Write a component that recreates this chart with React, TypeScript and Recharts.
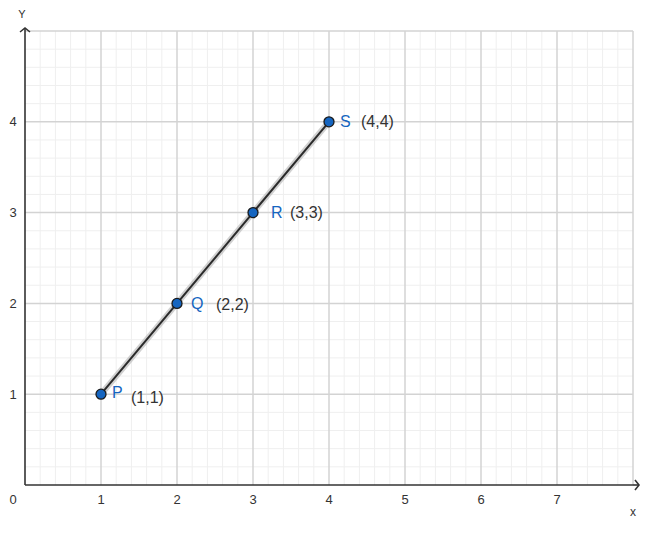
import React from 'react';
import { LineChart, Line, XAxis, YAxis, ReferenceLine, ReferenceDot, LabelList } from 'recharts';

const pointNames = ['P', 'Q', 'R', 'S'];
const xValues = [1, 2, 3, 4];
const yValues = [1, 2, 3, 4];
const xTicks = [0, 1, 2, 3, 4, 5, 6, 7];
const yTicks = [1, 2, 3, 4];
const xMax = 8;
const yMax = 5;

// label nudges (px) for name and coordinate text, per point
const nameDx = [11, 14, 18, 11];
const coordDx = [30, 39, 37, 32];
const nameDy = [-2, 0, 0, 0];
const coordDy = [3, 1, 0, 0];

const data = pointNames.map((name, i) => ({ name, x: xValues[i], y: yValues[i] }));

const steps = (max: number, step: number) => {
  const out: number[] = [];
  for (let i = 0; i <= Math.round(max / step); i++) out.push(+(i * step).toFixed(2));
  return out;
};
const minorX = steps(xMax, 0.2).filter((v) => v % 1 !== 0);
const minorY = steps(yMax, 0.2).filter((v) => v % 1 !== 0);
const majorX = steps(xMax, 1).filter((v) => v > 0);
const majorY = steps(yMax, 1).filter((v) => v > 0);

const FONT = '"Liberation Sans", Arial, sans-serif';
const BLUE = '#1565c0';

function XTick({ x, y, payload }: any) {
  const dx = payload.value === 0 ? -12 : 0;
  return (
    <text x={x + dx} y={y + 14} textAnchor="middle" dominantBaseline="central" fontSize={13} fill="#333" fontFamily={FONT}>
      {payload.value}
    </text>
  );
}

function YTick({ x, y, payload }: any) {
  return (
    <text x={x - 12} y={y} textAnchor="middle" dominantBaseline="central" fontSize={13} fill="#333" fontFamily={FONT}>
      {payload.value}
    </text>
  );
}

function PointDot({ cx, cy }: any) {
  return <circle cx={cx} cy={cy} r={5} fill={BLUE} stroke="#1a1a1a" strokeWidth={1.3} />;
}

function PointLabel({ x, y, index }: any) {
  const d = data[index];
  return (
    <g fontFamily={FONT} fontSize={16}>
      <text x={x + nameDx[index]} y={y + nameDy[index]} dominantBaseline="central" fill={BLUE}>
        {d.name}
      </text>
      <text x={x + coordDx[index]} y={y + coordDy[index]} dominantBaseline="central" fill="#333">
        ({d.x},{d.y})
      </text>
    </g>
  );
}

function XArrow({ cx, cy }: any) {
  return (
    <g>
      <line x1={cx} y1={cy} x2={cx + 6} y2={cy} stroke="#333" strokeWidth={1.6} />
      <path d={`M${cx + 2},${cy - 5} L${cx + 6},${cy} L${cx + 2},${cy + 5}`} fill="none" stroke="#333" strokeWidth={1.6} />
      <text x={cx} y={cy + 27} textAnchor="middle" dominantBaseline="central" fontSize={12} fill="#333" fontFamily={FONT}>
        x
      </text>
    </g>
  );
}

function YArrow({ cx, cy }: any) {
  return (
    <g>
      <line x1={cx} y1={cy} x2={cx} y2={cy - 3} stroke="#333" strokeWidth={1.6} />
      <path d={`M${cx - 5},${cy + 1} L${cx},${cy - 3} L${cx + 5},${cy + 1}`} fill="none" stroke="#333" strokeWidth={1.6} />
      <text x={cx - 3} y={cy - 17} textAnchor="middle" dominantBaseline="central" fontSize={11} fill="#333" fontFamily={FONT}>
        Y
      </text>
    </g>
  );
}

export default function App() {
  return (
    <div style={{ position: 'absolute', left: 0, top: 0, background: '#fff' }}>
      <LineChart width={668} height={536} data={data} margin={{ top: 31, right: 35, left: 0, bottom: 0 }}>
        <XAxis
          dataKey="x"
          type="number"
          domain={[0, xMax]}
          ticks={xTicks}
          interval={0}
          height={51}
          tick={<XTick />}
          tickLine={false}
          tickSize={0}
          tickMargin={0}
          axisLine={{ stroke: '#333', strokeWidth: 1.6 }}
        />
        <YAxis
          type="number"
          domain={[0, yMax]}
          ticks={yTicks}
          interval={0}
          width={25}
          tick={<YTick />}
          tickLine={false}
          tickSize={0}
          tickMargin={0}
          axisLine={{ stroke: '#333', strokeWidth: 1.6 }}
        />
        {minorX.map((v) => (
          <ReferenceLine key={`mx${v}`} x={v} stroke="#efefef" strokeWidth={1} />
        ))}
        {minorY.map((v) => (
          <ReferenceLine key={`my${v}`} y={v} stroke="#efefef" strokeWidth={1} />
        ))}
        {majorX.map((v) => (
          <ReferenceLine key={`Mx${v}`} x={v} stroke="#d3d3d3" strokeWidth={1.5} />
        ))}
        {majorY.map((v) => (
          <ReferenceLine key={`My${v}`} y={v} stroke="#d3d3d3" strokeWidth={1.5} />
        ))}
        <ReferenceDot x={xMax} y={0} r={0} shape={<XArrow />} />
        <ReferenceDot x={0} y={yMax} r={0} shape={<YArrow />} />
        <Line dataKey="y" stroke="#bdbdbd" strokeWidth={6} strokeOpacity={0.7} dot={false} activeDot={false} isAnimationActive={false} />
        <Line dataKey="y" stroke="#2b2b2b" strokeWidth={2} dot={<PointDot />} activeDot={false} isAnimationActive={false}>
          <LabelList dataKey="name" content={<PointLabel />} />
        </Line>
      </LineChart>
    </div>
  );
}
